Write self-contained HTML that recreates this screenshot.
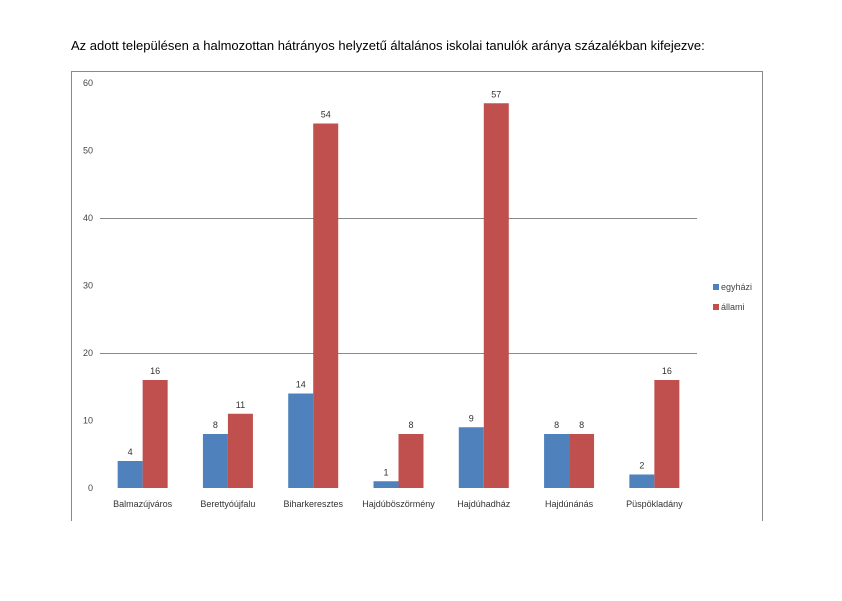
<!DOCTYPE html>
<html><head><meta charset="utf-8"><style>
body{margin:0;background:#fff;width:842px;height:596px;overflow:hidden;font-family:"Liberation Sans",sans-serif}
</style></head><body>
<svg width="842" height="596" xmlns="http://www.w3.org/2000/svg">
<text x="71" y="50" font-size="13" fill="#000">Az adott településen a halmozottan hátrányos helyzetű általános iskolai tanulók aránya százalékban kifejezve:</text>
<path d="M71.5 521 V71.5 H762.5 V521" fill="none" stroke="#888" stroke-width="1"/>
<g id="grid"></g><g id="bars"></g><g id="labels"></g>
<g>
<rect x="713" y="284" width="6" height="6" fill="#4f81bd"/>
<text x="721" y="290" font-size="9" fill="#444">egyházi</text>
<rect x="713" y="304" width="6" height="6" fill="#c0504d"/>
<text x="721" y="310" font-size="9" fill="#444">állami</text>
</g>
</svg>
<script>
const categories=["Balmazújváros","Berettyóújfalu","Biharkeresztes","Hajdúböszörmény","Hajdúhadház","Hajdúnánás","Püspökladány"];
const egyhazi=[4,8,14,1,9,8,2];
const allami=[16,11,54,8,57,8,16];
const yTicks=[0,10,20,30,40,50,60];
const NS="http://www.w3.org/2000/svg";
const x0=100,x1=697,y0=488,yTop=83,yMax=60;
const y=v=>y0-(v/yMax)*(y0-yTop);
const bw=(x1-x0)/categories.length;
const cx=i=>x0+bw*(i+0.5);
function mk(t,a,p){const e=document.createElementNS(NS,t);for(const k in a)e.setAttribute(k,a[k]);document.getElementById(p).appendChild(e);return e;}
yTicks.forEach(v=>{
 if(v===20||v===40){const l=mk('line',{x1:x0,x2:x1,y1:y(v)+0.5,y2:y(v)+0.5,stroke:'#888'},'grid');
 
 }
 const t=mk('text',{x:93,y:y(v)+3,'font-size':9,fill:'#444','text-anchor':'end'},'labels');t.textContent=v;
 
 
});
const w=25;
categories.forEach((c,i)=>{
 const b1=mk('rect',{x:cx(i)-w,y:y(egyhazi[i]),width:w,height:y0-y(egyhazi[i]),fill:'#4f81bd'},'bars');
 
 
 const b2=mk('rect',{x:cx(i),y:y(allami[i]),width:w,height:y0-y(allami[i]),fill:'#c0504d'},'bars');
 
 
 const l1=mk('text',{x:cx(i)-w/2,y:y(egyhazi[i])-6,'font-size':9,fill:'#333','text-anchor':'middle'},'labels');l1.textContent=egyhazi[i];
 
 
 const l2=mk('text',{x:cx(i)+w/2,y:y(allami[i])-6,'font-size':9,fill:'#333','text-anchor':'middle'},'labels');l2.textContent=allami[i];
 
 
 const ct=mk('text',{x:cx(i),y:507,'font-size':9,fill:'#333','text-anchor':'middle'},'labels');ct.textContent=c;
 
 
});
</script>
</body></html>
